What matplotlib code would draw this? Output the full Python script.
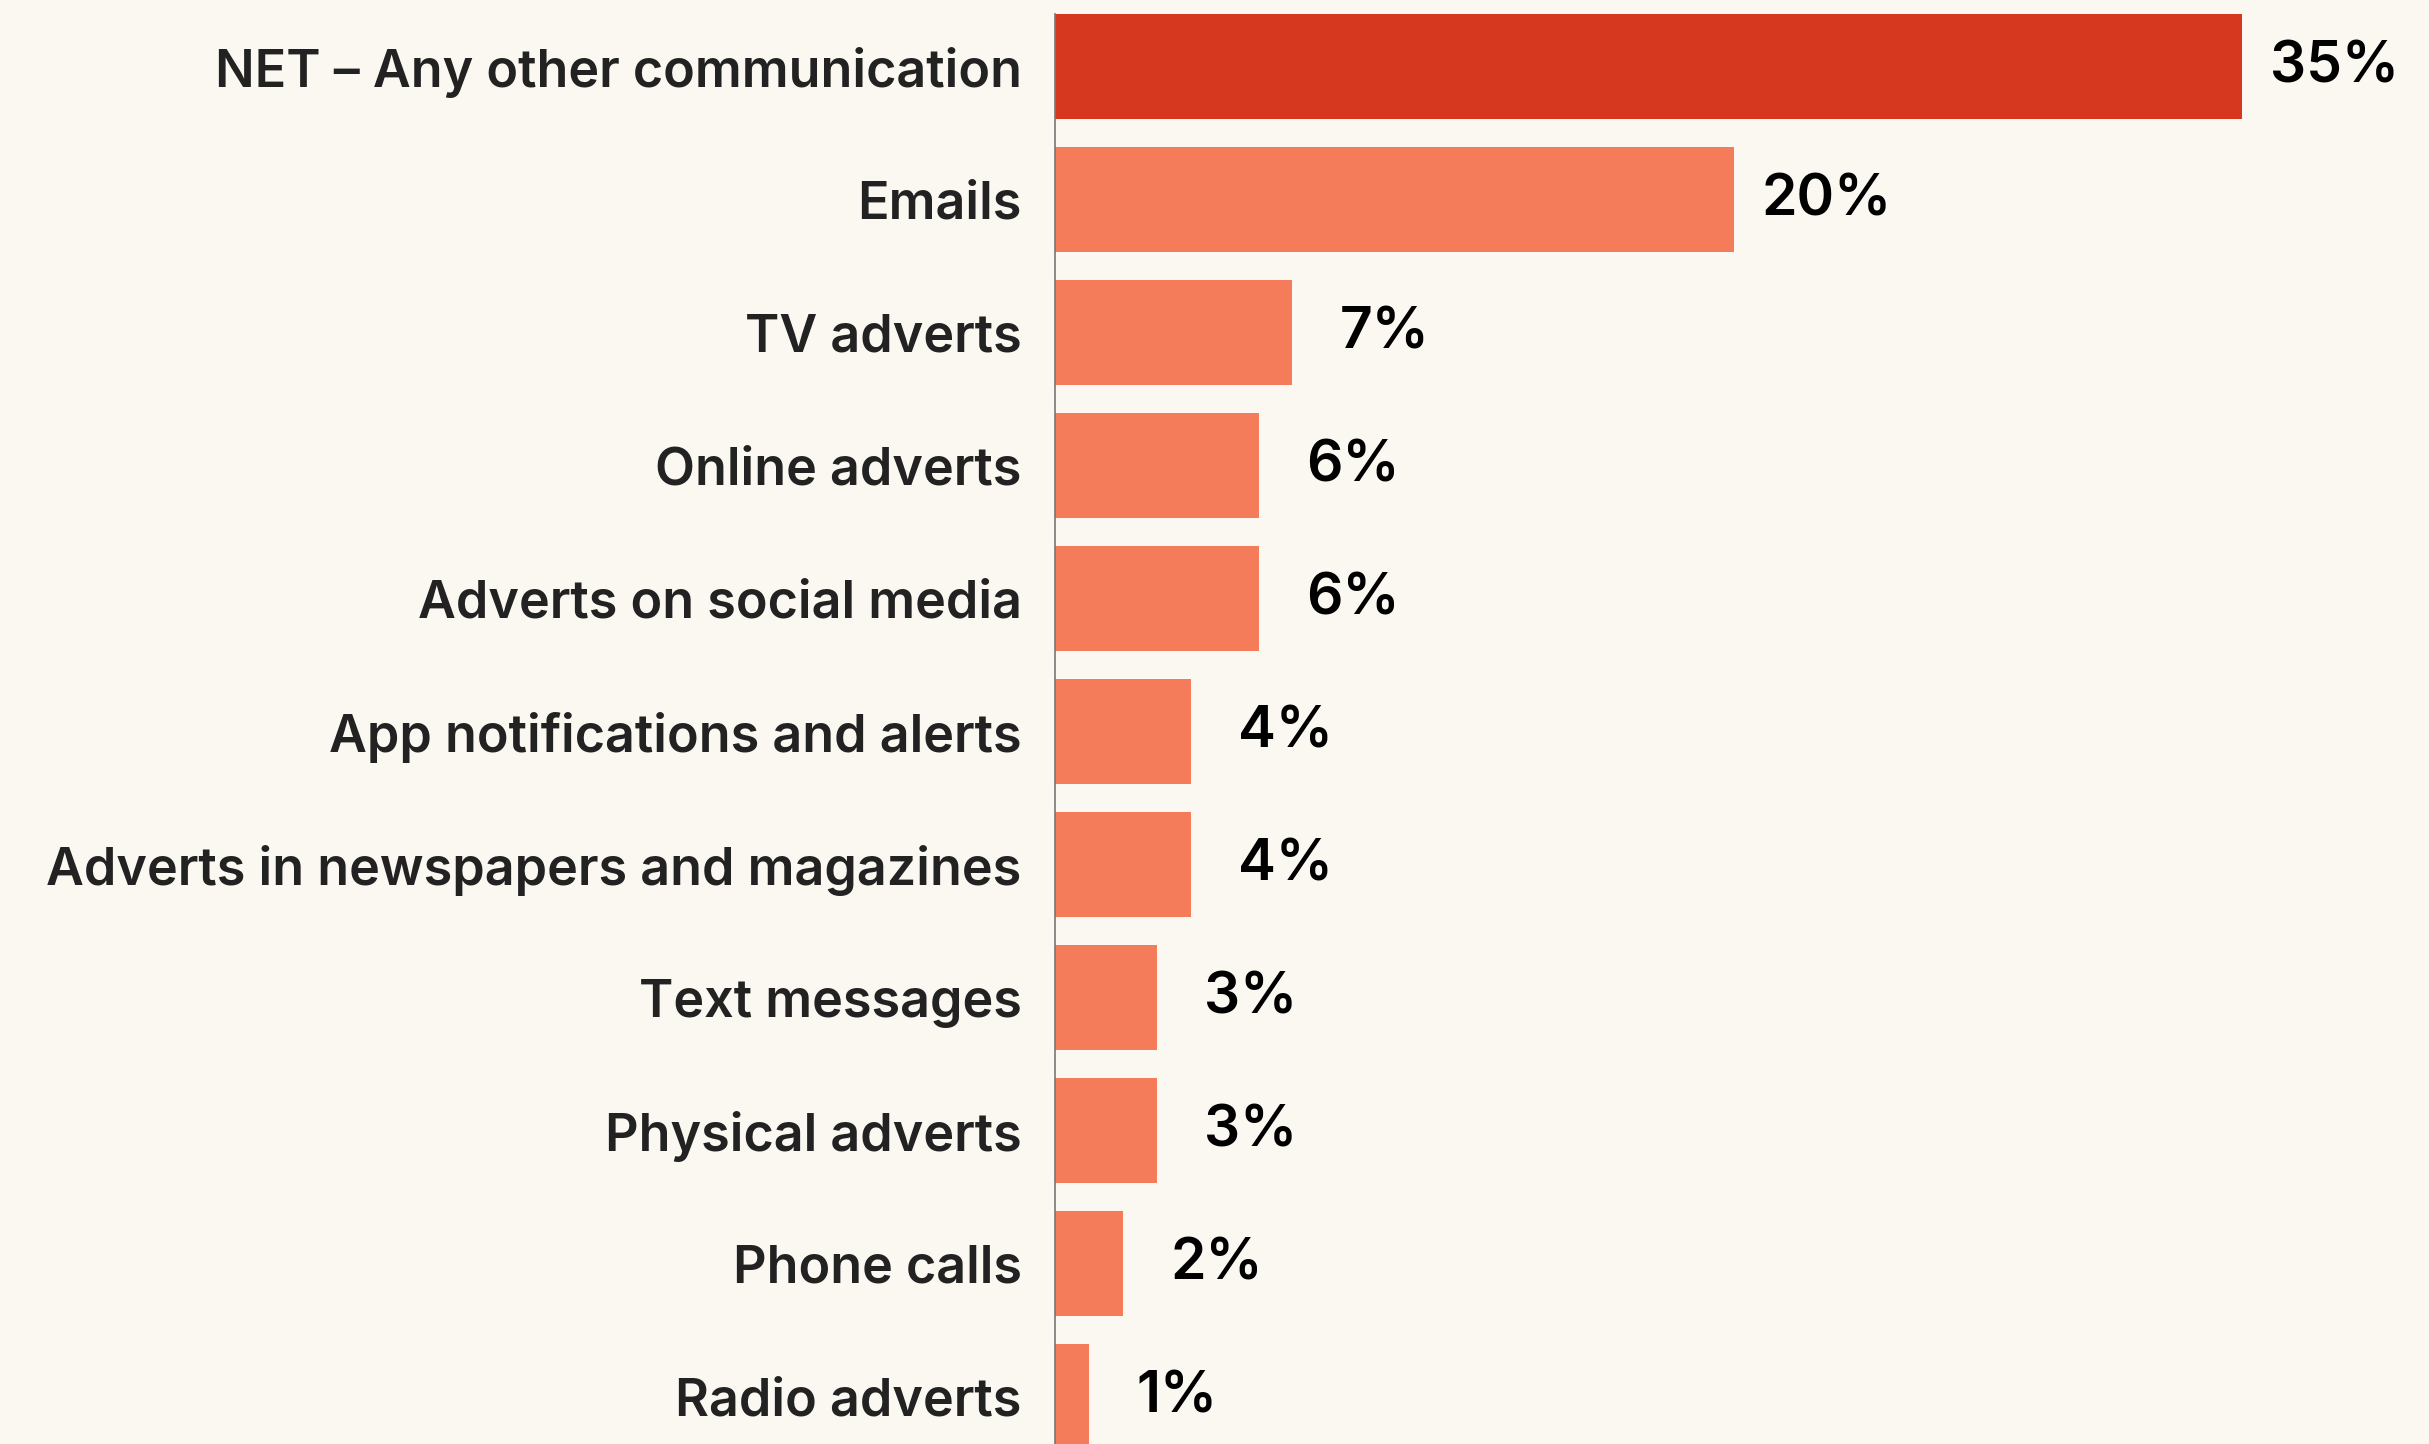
import matplotlib.pyplot as plt

categories = ['NET – Any other communication', 'Emails', 'TV adverts', 'Online adverts',
              'Adverts on social media', 'App notifications and alerts',
              'Adverts in newspapers and magazines', 'Text messages', 'Physical adverts',
              'Phone calls', 'Radio adverts']
values = [35, 20, 7, 6, 6, 4, 4, 3, 3, 2, 1]
labels = ['35%', '20%', '7%', '6%', '6%', '4%', '4%', '3%', '3%', '2%', '1%']

bg = '#fbf8f1'
net_color = '#d6381f'
bar_color = '#f47c5a'

W, H = 2429, 1444
fig = plt.figure(figsize=(W / 100, H / 100), dpi=100, facecolor=bg)
# axes from the left spine (x=1055 px) to the right edge, top at 14 px
ax = fig.add_axes([1055 / W, 0, 1 - 1055 / W, (H - 14) / H])
ax.set_facecolor(bg)

colors = [net_color] + [bar_color] * (len(values) - 1)
ypos = list(range(len(values)))
ax.barh(ypos, values, height=0.79, color=colors, zorder=2)

ax.set_xlim(0, 40.5)
unit_px = 133.0
top = -0.395
ax.set_ylim(top + (H - 14) / unit_px, top)

for y, v, lab in zip(ypos, values, labels):
    off = 20 if len(lab) >= 3 else 34
    ax.annotate(lab, (v, y + 0.01), xytext=(off, 0), textcoords='offset points',
                va='center', ha='left', fontsize=41, fontfamily='Inter',
                fontweight='semibold', color='#000000')

ax.set_yticks(ypos)
ax.set_yticklabels(categories, fontsize=37.5, fontfamily='Inter', fontweight='semibold',
                   color='#222222')
ax.tick_params(axis='y', length=0, pad=24)
ax.set_xticks([])
for s in ['top', 'right', 'bottom']:
    ax.spines[s].set_visible(False)
ax.spines['left'].set_color('#777777')
ax.spines['left'].set_linewidth(1.2)

fig.savefig('out.png', dpi=100, facecolor=bg)
